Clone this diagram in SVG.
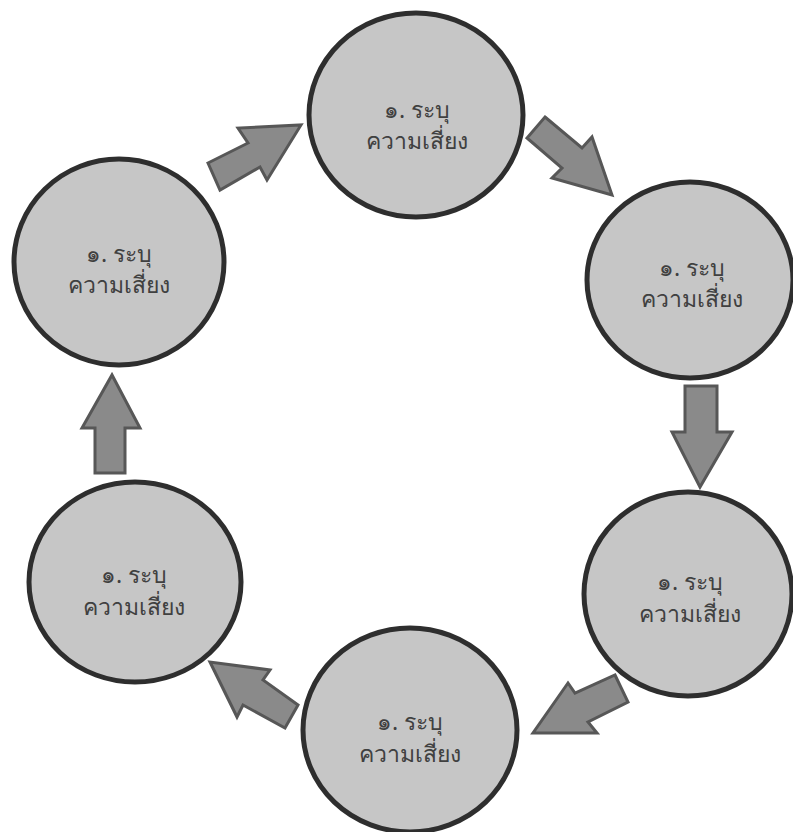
<svg xmlns="http://www.w3.org/2000/svg" width="793" height="832" viewBox="0 0 793 832">
<style>
.node ellipse{fill:#c6c6c6;stroke:#2e2e2e;stroke-width:5}
.node text{font-family:"Noto Sans","DejaVu Sans",sans-serif;font-size:23px;fill:#404040;text-anchor:middle}
.arrow{fill:#8a8a8a;stroke:#575757;stroke-width:3;stroke-linejoin:miter}
</style>
<rect width="793" height="832" fill="#ffffff"/>
<g id="connectors">
<polygon class="arrow" points="208,163 248,143 238,128 301,125 267,180 260,167 220,190"/>
<polygon class="arrow" points="545,117 582,148 592,137 612,195 552,178 562,168 527,138"/>
<polygon class="arrow" points="685,386 717,386 717,432 732,432 700,487 672,432 685,432"/>
<polygon class="arrow" points="615,675 628,702 588,722 597,733 533,733 568,683 575,693"/>
<polygon class="arrow" points="298,705 285,728 243,705 237,717 210,662 270,670 263,680"/>
<polygon class="arrow" points="95,473 125,473 125,428 140,428 112,375 82,428 95,428"/>
</g>
<g id="node1" class="node">
<ellipse cx="416" cy="115" rx="107" ry="102"/>
<text x="417" y="118">๑. ระบุ</text>
<text x="417" y="149">ความเสี่ยง</text>
</g>
<g id="node2" class="node">
<ellipse cx="690" cy="280" rx="103" ry="98"/>
<text x="692" y="276">๑. ระบุ</text>
<text x="692" y="307">ความเสี่ยง</text>
</g>
<g id="node3" class="node">
<ellipse cx="688" cy="594" rx="104" ry="102"/>
<text x="690" y="590">๑. ระบุ</text>
<text x="690" y="622">ความเสี่ยง</text>
</g>
<g id="node4" class="node">
<ellipse cx="410" cy="730" rx="107" ry="102"/>
<text x="410" y="730">๑. ระบุ</text>
<text x="410" y="762">ความเสี่ยง</text>
</g>
<g id="node5" class="node">
<ellipse cx="135" cy="582" rx="106" ry="100"/>
<text x="134" y="583">๑. ระบุ</text>
<text x="134" y="615">ความเสี่ยง</text>
</g>
<g id="node6" class="node">
<ellipse cx="119" cy="262" rx="105" ry="103"/>
<text x="119" y="262">๑. ระบุ</text>
<text x="119" y="293">ความเสี่ยง</text>
</g>
</svg>
